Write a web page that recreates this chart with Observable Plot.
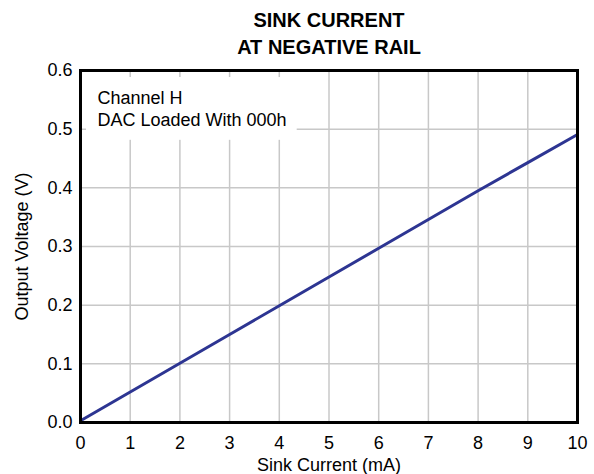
<!DOCTYPE html>
<html><head><meta charset="utf-8">
<script src="https://cdn.jsdelivr.net/npm/d3@7"></script>
<script src="https://cdn.jsdelivr.net/npm/@observablehq/plot@0.6"></script>
<style>body{margin:0;background:#fff}</style>
</head><body><div id="chart"></div>
<script>
const current = [0, 1, 2, 3, 4, 5, 6, 7, 8, 9, 10];
const voltage = [0.003, 0.052, 0.101, 0.150, 0.199, 0.248, 0.297, 0.346, 0.395, 0.443, 0.491];
const xTicks = [0, 1, 2, 3, 4, 5, 6, 7, 8, 9, 10];
const yTicks = [0, 0.1, 0.2, 0.3, 0.4, 0.5, 0.6];
const titleLines = ["SINK CURRENT", "AT NEGATIVE RAIL"];
const noteLines = ["Channel H", "DAC Loaded With 000h"];
const xLabel = "Sink Current (mA)";
const yLabel = "Output Voltage (V)";

const data = current.map((x, i) => ({x, y: voltage[i]}));
const font = "Liberation Sans, Arial, Helvetica, sans-serif";

const plot = Plot.plot({
  width: 594, height: 474,
  marginLeft: 80, marginRight: 17, marginTop: 70, marginBottom: 52,
  style: {fontFamily: font, fontSize: "18px", color: "#000", background: "#fff"},
  x: {domain: [0, 10], ticks: xTicks, tickFormat: d => String(d), label: null},
  y: {domain: [0, 0.6], ticks: yTicks, tickFormat: d3.format(".1f"), label: null},
  marks: [
    Plot.gridX(xTicks.slice(1, -1), {stroke: "#c8c8c8", strokeOpacity: 1, strokeWidth: 1.5}),
    Plot.gridY(yTicks.slice(1, -1), {stroke: "#c8c8c8", strokeOpacity: 1, strokeWidth: 1.5}),
    Plot.rect([0], {x1: 0.12, x2: 4.36, y1: 0.481, y2: 0.588, fill: "white"}),
    ...noteLines.map((t, i) => Plot.text([t], {
      frameAnchor: "top-left", dx: 17, dy: 28 + 22 * i, textAnchor: "start", lineAnchor: "middle",
      fontSize: 18, fill: "#000"
    })),
    Plot.line(data, {x: "x", y: "y", stroke: "#2d3592", strokeWidth: 3}),
    Plot.frame({stroke: "#000", strokeWidth: 3}),
    Plot.axisX(xTicks, {tickSize: 0, tickPadding: 14, fontSize: 18}),
    Plot.axisY(yTicks, {tickSize: 0, tickPadding: 8, fontSize: 18, tickFormat: d3.format(".1f")}),
    Plot.text([xLabel], {frameAnchor: "bottom", dy: 43, textAnchor: "middle", lineAnchor: "middle", fontSize: 18, fill: "#000"}),
    Plot.text([yLabel], {frameAnchor: "left", dx: -58, rotate: -90, textAnchor: "middle", lineAnchor: "middle", fontSize: 18, fill: "#000"}),
    ...titleLines.map((t, i) => Plot.text([t], {
      frameAnchor: "top", dy: -50 + 27 * i, lineAnchor: "middle",
      fontSize: 20, fontWeight: "bold", fill: "#000"
    }))
  ]
});
document.getElementById("chart").append(plot);
</script>
</body></html>
